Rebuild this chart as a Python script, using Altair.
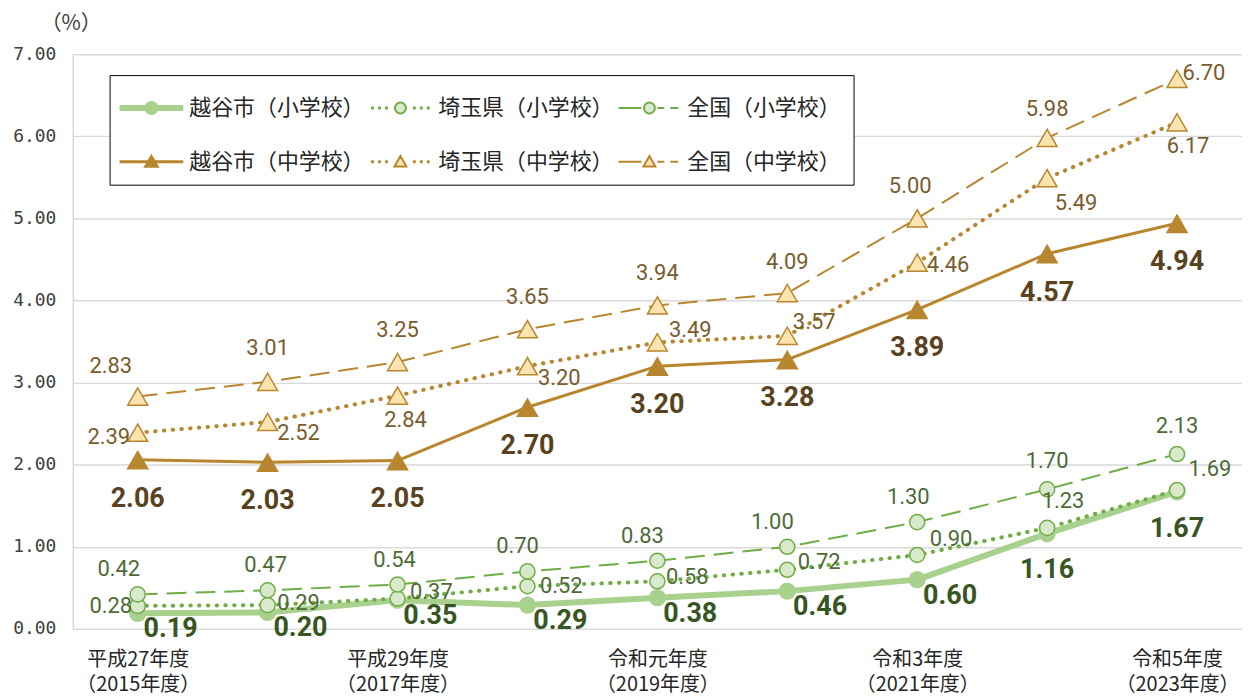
import json
import altair as alt
import pandas as pd

# ---------------- data ----------------
years = ["2015", "2016", "2017", "2018", "2019", "2020", "2021", "2022", "2023"]
era_labels = ["平成27年度", "", "平成29年度", "", "令和元年度", "", "令和3年度", "", "令和5年度"]
fy_labels = ["（2015年度）", "", "（2017年度）", "", "（2019年度）", "", "（2021年度）", "", "（2023年度）"]

series_names = ["越谷市（小学校）", "埼玉県（小学校）", "全国（小学校）",
                "越谷市（中学校）", "埼玉県（中学校）", "全国（中学校）"]

koshigaya_elem = [0.19, 0.20, 0.35, 0.29, 0.38, 0.46, 0.60, 1.16, 1.67]
saitama_elem = [0.28, 0.29, 0.37, 0.52, 0.58, 0.72, 0.90, 1.23, 1.69]
national_elem = [0.42, 0.47, 0.54, 0.70, 0.83, 1.00, 1.30, 1.70, 2.13]
koshigaya_jhs = [2.06, 2.03, 2.05, 2.70, 3.20, 3.28, 3.89, 4.57, 4.94]
saitama_jhs = [2.39, 2.52, 2.84, 3.20, 3.49, 3.57, 4.46, 5.49, 6.17]
national_jhs = [2.83, 3.01, 3.25, 3.65, 3.94, 4.09, 5.00, 5.98, 6.70]

y_ticks = [0, 1, 2, 3, 4, 5, 6, 7]
y_unit = "（%）"

values_by_series = [koshigaya_elem, saitama_elem, national_elem,
                    koshigaya_jhs, saitama_jhs, national_jhs]

rows = []
for s, vals in zip(series_names, values_by_series):
    for i, (yr, v) in enumerate(zip(years, vals)):
        rows.append({"series": s, "year": yr, "idx": i, "value": v})
df = pd.DataFrame(rows)

# ---------------- styles ----------------
GREEN_LIGHT = "#a9d18e"
GREEN = "#70ad47"
GREEN_FILL = "#d8eacb"
GOLD = "#b8862e"
GOLD_FILL = "#fce3b0"
LAB_GREEN = "#4e6b36"
LAB_GREEN_B = "#375623"
LAB_BROWN = "#7a5c2d"
LAB_BROWN_B = "#5a4220"
NUM_FONT = "Roboto"
JP_FONT = "Noto Sans CJK JP"

DOT = dict(strokeDash=[0.5, 8.3], strokeCap="round", strokeWidth=4)
DASH = dict(strokeDash=[20, 9], strokeWidth=2)

styles = {
    "越谷市（小学校）": dict(
        line=dict(color=GREEN_LIGHT, strokeWidth=6),
        pt=dict(shape="circle", size=300, fill=GREEN_LIGHT, stroke=GREEN_LIGHT, strokeWidth=0),
        lab=dict(color=LAB_GREEN_B, fontWeight="bold", fontSize=27),
        place=[(33, 16)] * 7 + [(0, 37)] * 2),
    "埼玉県（小学校）": dict(
        line=dict(color=GREEN, **DOT),
        pt=dict(shape="circle", size=230, fill=GREEN_FILL, stroke=GREEN, strokeWidth=1.5),
        lab=dict(color=LAB_GREEN, fontWeight="normal", fontSize=22),
        place=[(-27, 0), (31, -2), (34, -7), (34, 0), (30, -4), (32, -8), (34, -16), (16, -27), (33, -21)]),
    "全国（小学校）": dict(
        line=dict(color=GREEN, **DASH),
        pt=dict(shape="circle", size=230, fill=GREEN_FILL, stroke=GREEN, strokeWidth=1.5),
        lab=dict(color=LAB_GREEN, fontWeight="normal", fontSize=22),
        place=[(-19, -25), (-2, -25), (-3, -25), (-10, -25), (-15, -25), (-15, -25), (-9, -25), (0, -28), (0, -28)]),
    "越谷市（中学校）": dict(
        line=dict(color=GOLD, strokeWidth=3),
        pt=dict(shape="triangle-up", size=520, fill=GOLD, stroke=GOLD, strokeWidth=0),
        lab=dict(color=LAB_BROWN_B, fontWeight="bold", fontSize=27),
        place=[(0, 39)] * 9),
    "埼玉県（中学校）": dict(
        line=dict(color=GOLD, **DOT),
        pt=dict(shape="triangle-up", size=400, fill=GOLD_FILL, stroke=GOLD, strokeWidth=1.5),
        lab=dict(color=LAB_BROWN, fontWeight="normal", fontSize=22),
        place=[(-29, 4), (31, 11), (8, 24), (32, 12), (33, -12), (27, -14), (31, 2), (29, 25), (11, 24)]),
    "全国（中学校）": dict(
        line=dict(color=GOLD, **DASH),
        pt=dict(shape="triangle-up", size=400, fill=GOLD_FILL, stroke=GOLD, strokeWidth=1.5),
        lab=dict(color=LAB_BROWN, fontWeight="normal", fontSize=22),
        place=[(-27, -31), (0, -34), (0, -32), (0, -32), (0, -33), (0, -31), (-7, -33), (0, -29), (27, -6)]),
}

# ---------------- legend symbol paths (pixel design -> unit space) ----------------
SYM = 40.0
U = SYM / 2.0


def u(v):
    return f"{v / U:.4f}"


def circ(cx, r):
    return (f"M{u(cx + r)},0A{u(r)},{u(r)} 0 1,1 {u(cx - r)},0"
            f"A{u(r)},{u(r)} 0 1,1 {u(cx + r)},0Z")


def tri(w, h):
    return f"M0,{u(-h * 0.55)}L{u(w / 2)},{u(h * 0.45)}L{u(-w / 2)},{u(h * 0.45)}Z"


def rect(x0, x1, y0, y1):
    return f"M{u(x0)},{u(y0)}H{u(x1)}V{u(y1)}H{u(x0)}Z"


def seg(x0, x1):
    return f"M{u(x0)},0H{u(x1)}"


dots = "".join(circ(x, 0.7) for x in [-28, -21, -14, 14, 21, 28])
dashes = seg(-31, -8) + seg(8, 15) + seg(21, 29)

legend_paths = [
    rect(-31, 31, -2, 2) + circ(0, 6),
    dots + circ(0, 5.5),
    dashes + circ(0, 5.5),
    rect(-31, 31, -0.5, 0.5) + tri(13, 11),
    dots + tri(12, 10.5),
    dashes + tri(12, 10.5),
]
legend_fills = [GREEN_LIGHT, GREEN_FILL, GREEN_FILL, GOLD, GOLD_FILL, GOLD_FILL]
legend_strokes = [GREEN_LIGHT, GREEN, GREEN, GOLD, GOLD, GOLD]

# ---------------- axes ----------------
parts = []
for e, f in zip(era_labels, fy_labels):
    parts.append(f"['{e}','{f}']" if e else "''")
label_expr = f"[{','.join(parts)}][indexof({json.dumps(years)}, datum.value)]"

x_enc = alt.X(
    "year:O",
    sort=years,
    scale=alt.Scale(type="point", padding=0.5),
    axis=alt.Axis(
        title=None, labelAngle=0, labelExpr=label_expr, labelFont=JP_FONT,
        labelFontSize=20, labelColor="#262626", labelLineHeight=25,
        labelPadding=21, ticks=False, tickSize=0, grid=False,
        domainColor="#d9d9d9", domainWidth=1.5, labelOverlap=False,
    ),
)
y_enc = alt.Y(
    "value:Q",
    scale=alt.Scale(domain=[0, 7], nice=False),
    axis=alt.Axis(
        values=y_ticks, format=".2f", labelFont="DejaVu Sans Mono",
        labelFontSize=18, labelColor="#404040", labelPadding=17,
        ticks=False, tickSize=0, grid=True, gridColor="#d9d9d9", gridWidth=1.5,
        domainColor="#d9d9d9", domainWidth=1.5,
        title=y_unit, titleAngle=0, titleX=-2, titleY=-31, titleAlign="center",
        titleBaseline="middle", titleFont=JP_FONT, titleFontSize=21,
        titleFontWeight="normal", titleColor="#404040", titleLimit=200,
    ),
)

base = alt.Chart(df)
layers = []

for s in series_names:
    st = styles[s]
    sub = base.transform_filter(alt.datum.series == s)
    layers.append(sub.mark_line(strokeJoin="round", **st["line"]).encode(x=x_enc, y=y_enc))
    layers.append(sub.mark_point(filled=True, opacity=1, **st["pt"]).encode(x=x_enc, y=y_enc))

for s in series_names:
    st = styles[s]
    groups = {}
    for i, p in enumerate(st["place"]):
        groups.setdefault(p, []).append(i)
    for (dx, dy), idxs in groups.items():
        layers.append(
            base.transform_filter(
                f"datum.series == '{s}' && indexof({json.dumps(idxs)}, datum.idx) >= 0"
            ).mark_text(
                dx=dx, dy=dy, align="center", baseline="middle", font=NUM_FONT,
                **st["lab"],
            ).encode(x=x_enc, y=y_enc, text=alt.Text("value:Q", format=".2f"))
        )

legend_def = alt.Legend(
    title=None, orient="none", legendX=37, legendY=21, columns=3,
    direction="horizontal",
    symbolSize=SYM * SYM, symbolStrokeWidth=2, symbolOpacity=1,
    symbolOffset=9, labelOffset=17, rowPadding=22, columnPadding=0,
    gridAlign="all", padding=12, strokeColor="#000000", fillColor="#ffffff",
    labelFont=JP_FONT, labelFontSize=22, labelColor="#262626", labelLimit=400,
)
legend_df = pd.DataFrame({"series": series_names})
legend_layer = alt.Chart(legend_df).transform_filter("false").mark_point(
    opacity=1, size=SYM * SYM, strokeWidth=2
).encode(
    shape=alt.Shape("series:N", scale=alt.Scale(domain=series_names, range=legend_paths), legend=legend_def),
    fill=alt.Fill("series:N", scale=alt.Scale(domain=series_names, range=legend_fills), legend=legend_def),
    stroke=alt.Stroke("series:N", scale=alt.Scale(domain=series_names, range=legend_strokes), legend=legend_def),
)
layers.append(legend_layer)

chart = alt.layer(*layers).properties(
    width=1174, height=577,
    autosize=alt.AutoSizeParams(type="none"),
    padding={"left": 65, "top": 45, "right": 0, "bottom": 66},
).configure_view(stroke=None)

chart.save("out.html", embed_options={"renderer": "svg", "actions": False})
